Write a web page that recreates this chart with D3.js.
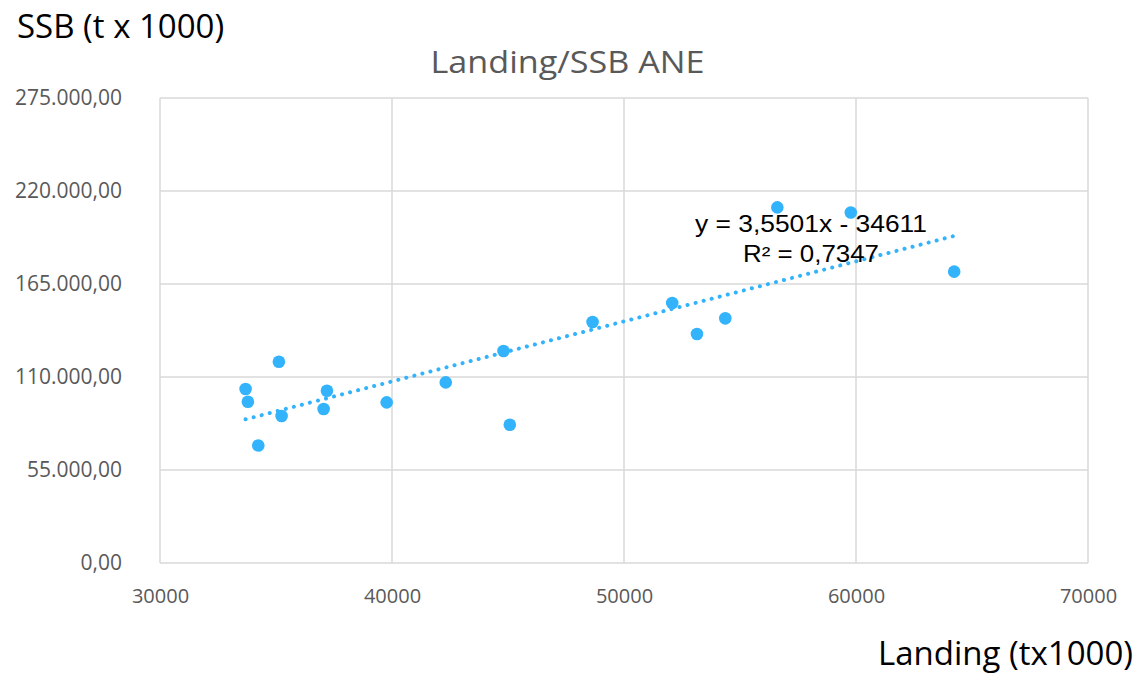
<!DOCTYPE html>
<html>
<head>
<meta charset="utf-8">
<script src="https://cdn.jsdelivr.net/npm/d3@7"></script>
<style>
  body { margin: 0; background: #fff; }
  svg text { font-family: "Open Sans", "Lato", sans-serif; }
</style>
</head>
<body>
<div id="chart"></div>
<script>
// landing (t x 1000) vs SSB
var landing = [33689, 33788, 34236, 35125, 35242, 37053, 37196, 39771, 42317,
               44806, 45078, 48645, 52079, 53145, 54366, 56609, 59776, 64232];
var ssb = [102900, 95400, 69500, 119000, 86900, 91100, 101900, 95000, 106800,
           125400, 81800, 142500, 153800, 135400, 144700, 210300, 207300, 172300];

var xTicks = [30000, 40000, 50000, 60000, 70000];
var yTicks = [0, 55000, 110000, 165000, 220000, 275000];

// trendline as reported in the chart
var slope = 3.5501,
    intercept = -34611;
var eqLines = ["y = 3,5501x - 34611", "R² = 0,7347"];
var eqWidths = [232, 136];

var W = 1140, H = 677;
var margin = {top: 98, right: 52, bottom: 114, left: 160};
var width = W - margin.left - margin.right,
    height = H - margin.top - margin.bottom;

var ptColor = "#33b3fb";

var svg = d3.select("#chart").append("svg")
    .attr("width", W)
    .attr("height", H);

var g = svg.append("g")
    .attr("transform", "translate(" + margin.left + "," + margin.top + ")");

var x = d3.scaleLinear().domain([30000, 70000]).range([0, width]);
var y = d3.scaleLinear().domain([0, 275000]).range([height, 0]);

// gridlines
g.selectAll(".vgrid").data(xTicks).enter().append("line")
    .attr("x1", function(d) { return x(d); })
    .attr("x2", function(d) { return x(d); })
    .attr("y1", 0).attr("y2", height)
    .attr("stroke", "#d9d9d9").attr("stroke-width", 1.5);

g.selectAll(".hgrid").data(yTicks).enter().append("line")
    .attr("x1", 0).attr("x2", width)
    .attr("y1", function(d) { return y(d); })
    .attr("y2", function(d) { return y(d); })
    .attr("stroke", "#d9d9d9").attr("stroke-width", 1.5);

// axes (labels only, lines come from the grid)
var fmtY = function(d) {
  return d3.format(",.2f")(d).replace(/,/g, "#").replace(".", ",").replace(/#/g, ".");
};

var yAxis = g.append("g")
    .call(d3.axisLeft(y).tickValues(yTicks).tickFormat(fmtY).tickSize(0).tickPadding(38));
yAxis.select(".domain").remove();
yAxis.selectAll("text")
    .attr("font-size", "21px")
    .attr("fill", "#595959")
    .style("font-family", "'Open Sans', sans-serif");

var xAxis = g.append("g")
    .attr("transform", "translate(0," + height + ")")
    .call(d3.axisBottom(x).tickValues(xTicks).tickFormat(d3.format("d")).tickSize(0).tickPadding(26));
xAxis.select(".domain").remove();
xAxis.selectAll("text")
    .attr("font-size", "20px")
    .attr("fill", "#595959")
    .style("font-family", "'Open Sans', sans-serif");

// points
g.selectAll(".pt").data(landing).enter().append("circle")
    .attr("cx", function(d) { return x(d); })
    .attr("cy", function(d, i) { return y(ssb[i]); })
    .attr("r", 6.3)
    .attr("fill", ptColor);

// dotted linear trendline across the data range
var ext = d3.extent(landing);
g.append("line")
    .attr("x1", x(ext[0])).attr("y1", y(slope * ext[0] + intercept))
    .attr("x2", x(ext[1])).attr("y2", y(slope * ext[1] + intercept))
    .attr("stroke", ptColor)
    .attr("stroke-width", 4)
    .attr("stroke-linecap", "round")
    .attr("stroke-dasharray", "0.1 8.2");

// equation label
svg.selectAll(".eq").data(eqLines).enter().append("text")
    .attr("x", 811)
    .attr("y", function(d, i) { return 231.5 + i * 30.5; })
    .attr("text-anchor", "middle")
    .attr("font-size", "23px")
    .attr("textLength", function(d, i) { return eqWidths[i]; })
    .attr("lengthAdjust", "spacingAndGlyphs")
    .attr("fill", "#000")
    .style("font-family", "'Liberation Sans', Arial, sans-serif")
    .text(function(d) { return d; });

// titles
svg.append("text")
    .attr("x", 567.5).attr("y", 73)
    .attr("text-anchor", "middle")
    .attr("font-size", "31px")
    .attr("textLength", 274)
    .attr("lengthAdjust", "spacingAndGlyphs")
    .attr("fill", "#595959")
    .text("Landing/SSB ANE");

svg.append("text")
    .attr("x", 17).attr("y", 38)
    .attr("font-size", "33px")
    .attr("fill", "#000")
    .text("SSB (t x 1000)");

svg.append("text")
    .attr("x", 1133).attr("y", 665)
    .attr("text-anchor", "end")
    .attr("font-size", "33px")
    .attr("fill", "#000")
    .text("Landing (tx1000)");
</script>
</body>
</html>
